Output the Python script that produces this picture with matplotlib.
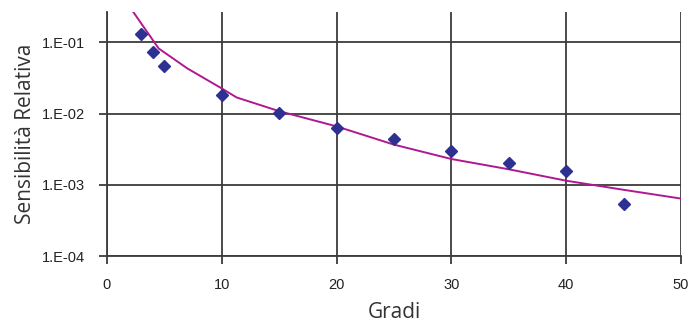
import matplotlib
matplotlib.use("Agg")
import matplotlib.pyplot as plt

# measured points
gradi = [3, 4, 5, 10, 15, 20, 25, 30, 35, 40, 45]
sens = [0.13, 0.072, 0.046, 0.0185, 0.0103, 0.0062, 0.0044, 0.0030, 0.0020, 0.00158, 0.00054]

# trend line
fit_x = [2.3, 4.5, 7, 10, 11.3, 15, 20, 25, 30, 35, 40, 45, 50, 51]
fit_y = [0.265, 0.082, 0.043, 0.0225, 0.0168, 0.0108, 0.0066, 0.00366, 0.0023, 0.00165, 0.00114, 0.00085, 0.00064, 0.00061]

xticks = [0, 10, 20, 30, 40, 50]
yticks = [1e-4, 1e-3, 1e-2, 1e-1]
ylabels = ["1.E-04", "1.E-03", "1.E-02", "1.E-01"]

fig = plt.figure(figsize=(6.92, 3.26), dpi=100)
ax = fig.add_axes([0.1546, 0.2147, 0.8295, 0.748])

grid_col = "#3c3c3c"
ax.set_yscale("log")
ax.set_xlim(0, 50)
ax.set_ylim(1e-4, 0.265)

ax.plot(fit_x, fit_y, color="#b0188f", lw=1.4, zorder=3, clip_on=True)
ax.plot(gradi, sens, linestyle="none", marker="D", markersize=6.5,
        color="#2e3192", zorder=4)

ax.set_xticks(xticks)
ax.set_yticks(yticks)
ax.set_yticklabels(ylabels)
ax.minorticks_off()
ax.grid(True, color=grid_col, lw=1.3)
ax.set_axisbelow(True)

for s in ["top", "right"]:
    ax.spines[s].set_visible(False)
for s in ["left", "bottom"]:
    ax.spines[s].set_color(grid_col)
    ax.spines[s].set_linewidth(1.3)

ax.tick_params(axis="both", direction="out", length=6, width=1.3, color=grid_col,
               labelsize=10.5, labelcolor="#222222", pad=10)
for lab in ax.get_xticklabels() + ax.get_yticklabels():
    lab.set_family("Liberation Sans")

ax.set_xlabel("Gradi", family="Open Sans", fontsize=15, color="#333333", labelpad=7)
ax.set_ylabel("Sensibilità Relativa", family="Open Sans", fontsize=15, color="#333333", labelpad=4)

fig.savefig("out.png", dpi=100)
